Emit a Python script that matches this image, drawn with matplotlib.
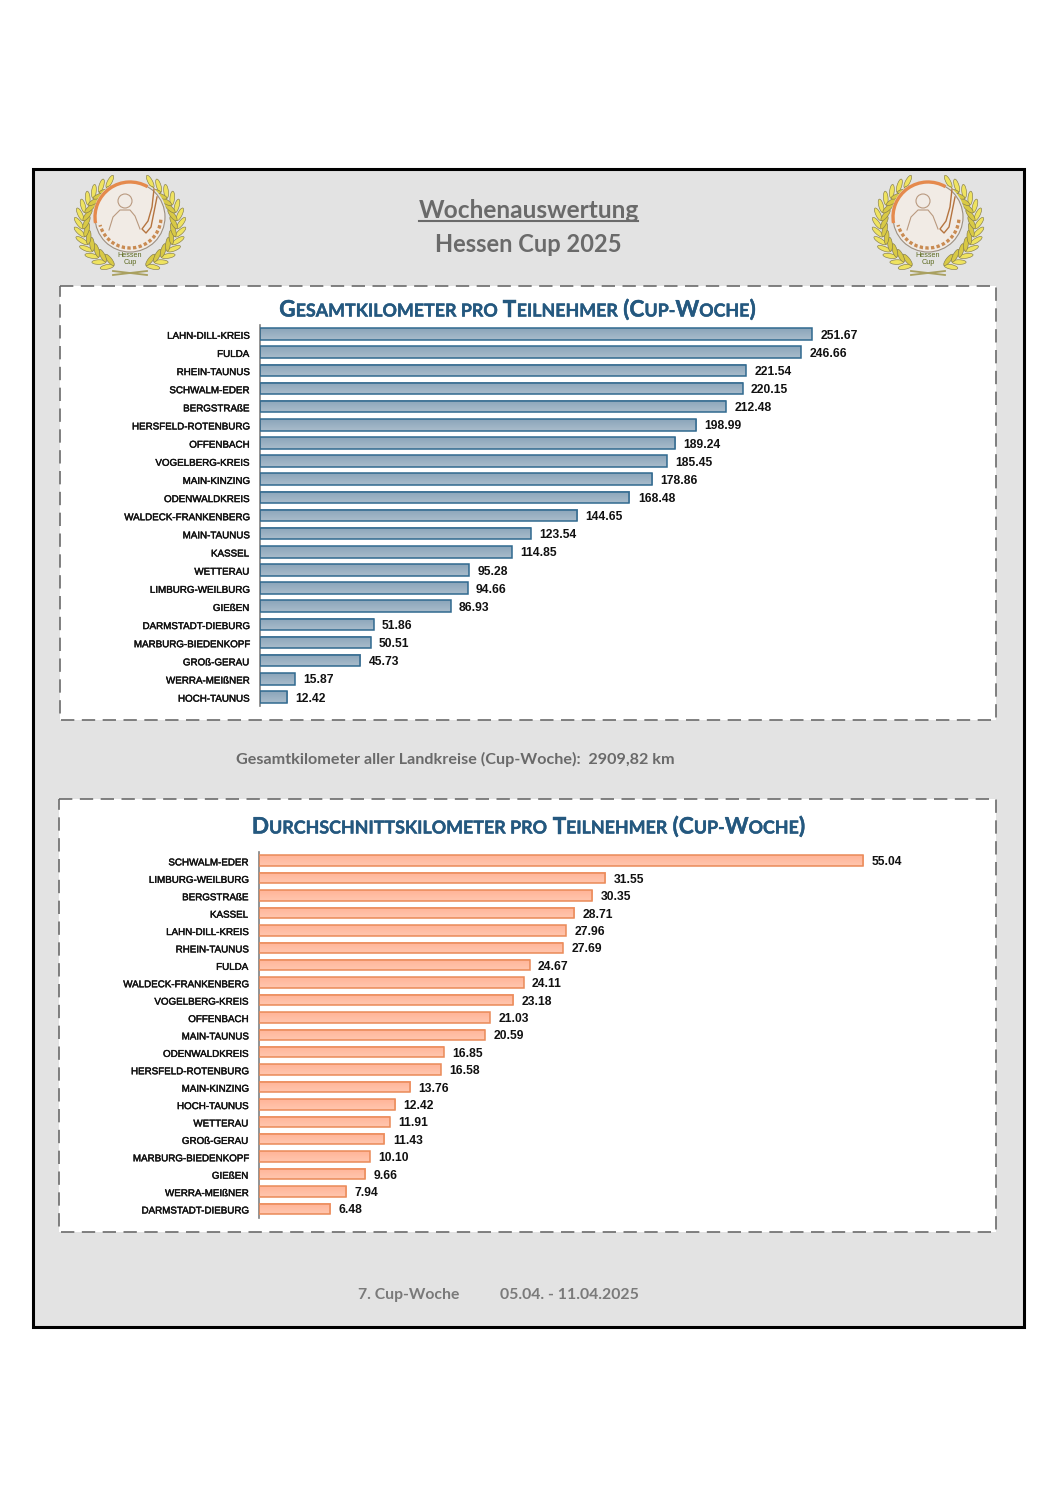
import numpy as np
import matplotlib
matplotlib.use('Agg')
import matplotlib.pyplot as plt
import matplotlib.patheffects as pe
from matplotlib.colors import to_rgb
from matplotlib.patches import Rectangle, Circle, Ellipse, Arc
from matplotlib.transforms import ScaledTranslation

# data
top_names = ['LAHN-DILL-KREIS', 'FULDA', 'RHEIN-TAUNUS', 'SCHWALM-EDER', 'BERGSTRAßE',
             'HERSFELD-ROTENBURG', 'OFFENBACH', 'VOGELBERG-KREIS', 'MAIN-KINZING',
             'ODENWALDKREIS', 'WALDECK-FRANKENBERG', 'MAIN-TAUNUS', 'KASSEL', 'WETTERAU',
             'LIMBURG-WEILBURG', 'GIEßEN', 'DARMSTADT-DIEBURG', 'MARBURG-BIEDENKOPF',
             'GROß-GERAU', 'WERRA-MEIßNER', 'HOCH-TAUNUS']
top_values = [251.67, 246.66, 221.54, 220.15, 212.48, 198.99, 189.24, 185.45, 178.86,
              168.48, 144.65, 123.54, 114.85, 95.28, 94.66, 86.93, 51.86, 50.51, 45.73,
              15.87, 12.42]

bottom_names = ['SCHWALM-EDER', 'LIMBURG-WEILBURG', 'BERGSTRAßE', 'KASSEL', 'LAHN-DILL-KREIS',
                'RHEIN-TAUNUS', 'FULDA', 'WALDECK-FRANKENBERG', 'VOGELBERG-KREIS', 'OFFENBACH',
                'MAIN-TAUNUS', 'ODENWALDKREIS', 'HERSFELD-ROTENBURG', 'MAIN-KINZING',
                'HOCH-TAUNUS', 'WETTERAU', 'GROß-GERAU', 'MARBURG-BIEDENKOPF', 'GIEßEN',
                'WERRA-MEIßNER', 'DARMSTADT-DIEBURG']
bottom_values = [55.04, 31.55, 30.35, 28.71, 27.96, 27.69, 24.67, 24.11, 23.18, 21.03, 20.59,
                 16.85, 16.58, 13.76, 12.42, 11.91, 11.43, 10.10, 9.66, 7.94, 6.48]

W, H = 1058, 1497
GREY_TXT = '#6a6a6a'
TITLE_BLUE = '#24587f'
LATO = ['Lato', 'DejaVu Sans']

plt.rcParams['font.family'] = ['Liberation Sans', 'DejaVu Sans']
fig = plt.figure(figsize=(W / 100, H / 100), dpi=100, facecolor='white')

# page layer in pixel coordinates
page = fig.add_axes([0, 0, 1, 1], zorder=0)
page.set_xlim(0, W)
page.set_ylim(H, 0)
page.axis('off')

page.add_patch(Rectangle((33, 169), 991, 1158, fc='#e3e3e3', ec='black', lw=2.2))
for x0, y0, x1, y1 in [(60, 286, 996, 720), (59, 799, 996, 1232)]:
    page.add_patch(Rectangle((x0, y0), x1 - x0, y1 - y0, fc='white', ec='#6b6b6b', lw=1.2,
                             ls=(0, (8, 4.5))))


def draw_logo(cx):
    cy = 217
    # wreath: pairs of leaves along an open ring
    for side in [-1, 1]:
        for a in np.linspace(-70, 60, 13):
            t = np.deg2rad(a)
            ring = np.array([cx + side * 47 * np.cos(t), 225 - 43 * np.sin(t)])
            tang = np.array([-side * np.sin(t), -np.cos(t)])
            for turn, c in [(side * 32, '#efe360'), (-side * 32, '#d8c945')]:
                r = np.deg2rad(turn)
                d = np.array([tang[0] * np.cos(r) - tang[1] * np.sin(r),
                              tang[0] * np.sin(r) + tang[1] * np.cos(r)])
                c_xy = ring + d * 7
                page.add_patch(Ellipse(c_xy, 14, 4.6, angle=np.degrees(np.arctan2(d[1], d[0])),
                                       fc=c, ec='#857c4c', lw=0.45))
    page.plot([cx - 17, cx + 17], [275, 271], color='#a9a060', lw=1.3)
    page.plot([cx - 17, cx + 17], [271, 275], color='#a9a060', lw=1.3)
    # badge
    page.add_patch(Circle((cx, cy), 37, fc='#e3e3e3', ec='none'))
    page.add_patch(Circle((cx, cy), 35, fc='#f1ebe5', ec='#9c8f80', lw=0.8))
    page.add_patch(Arc((cx, cy), 70, 70, theta1=170, theta2=300, ec='#e58a4d', lw=2.4))
    page.add_patch(Arc((cx, cy), 62, 62, theta1=5, theta2=165, ec='#c98b52', lw=2.4, ls=(0, (1, 0.7))))
    # person and horse outline
    page.add_patch(Circle((cx - 5, cy - 16), 7, fc='none', ec='#b9997f', lw=0.8))
    page.plot(cx + np.array([-21, -17, -10, 0, 5, 10]), cy + np.array([13, 0, -7, -7, -1, 12]),
              color='#b9997f', lw=0.8)
    page.plot(cx + np.array([24, 22, 18, 12, 16, 21, 27]), cy + np.array([-28, -10, 4, 12, 16, 10, -20]),
              color='#b5743f', lw=1.0)
    page.text(cx, 255.5, 'Hessen', fontsize=5.2, ha='center', va='center', color='#5d6a1f')
    page.text(cx, 262.5, 'Cup', fontsize=5.2, ha='center', va='center', color='#5d6a1f')


draw_logo(130)
draw_logo(928)

# header
page.text(528.5, 211, 'Wochenauswertung', family=LATO, weight='bold',
          fontsize=17.6, color=GREY_TXT, ha='center', va='center')
page.plot([419, 638], [220.5, 220.5], color=GREY_TXT, lw=1.5)
page.text(528.5, 245, 'Hessen Cup 2025', family=LATO, weight='bold',
          fontsize=17, color=GREY_TXT, ha='center', va='center')
page.text(236, 759, 'Gesamtkilometer aller Landkreise (Cup-Woche):  2909,82 km',
          family=LATO, weight='bold', fontsize=11.65, color=GREY_TXT, va='center')
page.text(358, 1295, '7. Cup-Woche', family=LATO, weight='bold', fontsize=11.3,
          color='#7a7a7a', va='center')
page.text(500, 1295, '05.04. - 11.04.2025', family=LATO, weight='bold',
          fontsize=11.4, color='#7a7a7a', va='center')


def small_caps(cx, y, parts, big=16.3, small=12.85):
    # parts alternate big, small, big ...
    rend = fig.canvas.get_renderer()
    items = []
    for i, s in enumerate(parts):
        items.append(page.text(0, y, s, family=LATO, weight='bold',
                               fontsize=big if i % 2 == 0 else small, color=TITLE_BLUE,
                               va='baseline', ha='left',
                               path_effects=[pe.withStroke(linewidth=0.3, foreground=TITLE_BLUE)]))
    widths = [t.get_window_extent(rend).width for t in items]
    x = cx - sum(widths) / 2
    for t, w in zip(items, widths):
        t.set_x(x)
        x += w


small_caps(517.5, 316.5, ['G', 'ESAMTKILOMETER PRO ', 'T', 'EILNEHMER ', '(C', 'UP-', 'W', 'OCHE', ')'])
small_caps(528.5, 833.5, ['D', 'URCHSCHNITTSKILOMETER PRO ', 'T', 'EILNEHMER ', '(C', 'UP-', 'W', 'OCHE', ')'])


def bar_panel(names, values, left, top, bottom, right, xmax, edge, c_top, c_bot, bar_h):
    ax = fig.add_axes([left / W, 1 - bottom / H, (right - left) / W, (bottom - top) / H], zorder=2)
    ax.patch.set_alpha(0)
    y = np.arange(len(values))
    ax.barh(y, values, height=bar_h, facecolor='none', edgecolor=edge, linewidth=1.1, zorder=3)
    c0, c1 = np.array(to_rgb(c_top)), np.array(to_rgb(c_bot))
    grad = c0 + np.linspace(0, 1, 32)[:, None, None] * (c1 - c0)
    for yi, v in zip(y, values):
        ax.imshow(grad, extent=(0, v, yi + bar_h / 2, yi - bar_h / 2), aspect='auto', zorder=2)
        ax.annotate('%.2f' % v, (v, yi), xytext=(6.0, -1.2), textcoords='offset points',
                    va='center', fontsize=8.7, fontweight='bold', color='#111111')
    ax.set_xlim(0, xmax)
    ax.set_ylim(len(values) - 0.5, -0.5)
    ax.set_yticks(y)
    ax.set_yticklabels(names, fontsize=7.05, color='#111111')
    ax.tick_params(axis='y', length=0, pad=8.0)
    shift = ScaledTranslation(0, -0.7 / 100, fig.dpi_scale_trans)
    for lab in ax.get_yticklabels():
        lab.set_transform(lab.get_transform() + shift)
        lab.set_path_effects([pe.withStroke(linewidth=0.3, foreground='#111111')])
    ax.set_xticks([])
    for s in ['top', 'right', 'bottom']:
        ax.spines[s].set_visible(False)
    ax.spines['left'].set_color('#808080')
    ax.spines['left'].set_linewidth(1.2)
    return ax


bar_panel(top_names, top_values, 260, 325, 706, 990, 730 / 2.193,
          '#30698f', '#8ba5ba', '#a9bccb', 0.64)
bar_panel(bottom_names, bottom_values, 259, 852, 1217.5, 990, 731 / 10.975,
          '#ea8a58', '#ffb498', '#ffc6ae', 0.60)

fig.savefig('out.png', dpi=100, facecolor='white')
